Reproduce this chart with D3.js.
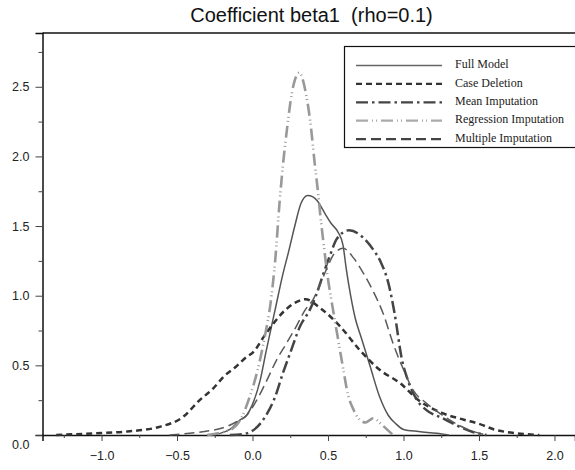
<!DOCTYPE html>
<html>
<head>
<meta charset="utf-8">
<script src="https://cdn.jsdelivr.net/npm/d3@7"></script>
<style>
  body { margin: 0; background: #fff; }
  text { font-family: "Liberation Sans", Arial, sans-serif; }
</style>
</head>
<body>
<div id="chart"></div>
<script>
// density estimates, as [beta1, density]
const fullModel = [[-0.3,0],[-0.22,0.01],[-0.15,0.04],[-0.08,0.11],[-0.04,0.14],[0.0,0.22],[0.05,0.39],[0.09,0.6],[0.15,0.9],[0.2,1.15],[0.24,1.32],[0.28,1.5],[0.32,1.66],[0.365,1.72],[0.4,1.71],[0.43,1.68],[0.48,1.59],[0.52,1.52],[0.57,1.45],[0.6,1.36],[0.62,1.2],[0.65,1.0],[0.68,0.84],[0.72,0.7],[0.78,0.49],[0.84,0.28],[0.9,0.14],[0.95,0.08],[1.0,0.04],[1.1,0.025],[1.22,0.012],[1.3,0]];
const caseDeletion = [[-1.3,0],[-1.05,0.012],[-0.83,0.025],[-0.61,0.06],[-0.46,0.13],[-0.35,0.25],[-0.26,0.335],[-0.19,0.42],[-0.11,0.49],[-0.04,0.56],[0.0,0.59],[0.09,0.73],[0.22,0.9],[0.3,0.96],[0.35,0.975],[0.45,0.91],[0.58,0.78],[0.71,0.61],[0.84,0.47],[0.98,0.37],[1.1,0.25],[1.25,0.16],[1.4,0.11],[1.5,0.08],[1.6,0.04],[1.75,0.012],[1.9,0]];
const meanImputation = [[-0.15,0],[-0.06,0.007],[0.05,0.08],[0.1,0.16],[0.15,0.275],[0.2,0.44],[0.25,0.59],[0.315,0.78],[0.38,0.9],[0.42,1.0],[0.47,1.16],[0.51,1.28],[0.56,1.41],[0.64,1.47],[0.73,1.42],[0.8,1.33],[0.85,1.24],[0.9,1.09],[0.94,0.88],[0.99,0.54],[1.03,0.39],[1.09,0.25],[1.15,0.18],[1.26,0.12],[1.35,0.07],[1.45,0.025],[1.55,0]];
const regressionImputation = [[-0.3,0],[-0.2,0.02],[-0.127,0.05],[-0.07,0.13],[-0.02,0.27],[0.03,0.45],[0.08,0.7],[0.12,0.95],[0.15,1.25],[0.18,1.68],[0.2,1.92],[0.23,2.21],[0.26,2.45],[0.31,2.6],[0.354,2.45],[0.387,2.21],[0.41,1.97],[0.43,1.78],[0.447,1.6],[0.47,1.38],[0.5,1.12],[0.53,0.92],[0.56,0.73],[0.6,0.48],[0.63,0.3],[0.67,0.18],[0.71,0.11],[0.75,0.09],[0.8,0.12],[0.86,0.07],[0.93,0]];
const multipleImputation = [[-0.55,0],[-0.33,0.024],[-0.2,0.05],[-0.105,0.095],[-0.04,0.14],[0.028,0.25],[0.094,0.39],[0.16,0.54],[0.226,0.66],[0.29,0.78],[0.35,0.9],[0.4,0.97],[0.44,1.06],[0.49,1.19],[0.54,1.3],[0.6,1.34],[0.67,1.27],[0.73,1.17],[0.8,1.03],[0.866,0.87],[0.93,0.66],[1.0,0.47],[1.065,0.32],[1.15,0.23],[1.24,0.156],[1.35,0.08],[1.45,0.03],[1.55,0]];

const seriesNames = ["Full Model", "Case Deletion", "Mean Imputation", "Regression Imputation", "Multiple Imputation"];
const xTicks = [-1.0, -0.5, 0.0, 0.5, 1.0, 1.5, 2.0];
const xMinor = [-1.25, -0.75, -0.25, 0.25, 0.75, 1.25, 1.75];
const yTicks = [0.0, 0.5, 1.0, 1.5, 2.0, 2.5];
const yMinor = [0.25, 0.75, 1.25, 1.75, 2.25, 2.75];

const width = 575, height = 470;
const plotLeft = 42.5, plotTop = 33, plotBottom = 435;

const svg = d3.select("#chart").append("svg")
    .attr("width", width)
    .attr("height", height);

const x = d3.scaleLinear().domain([-1.391, 2.136]).range([plotLeft, width]);
const y = d3.scaleLinear().domain([0, 2.886]).range([plotBottom, plotTop]);

// line looks for each series (plot / legend)
const styles = [
  {color: "#555", w: 1.5, dash: null, lw: 1.3, lcolor: "#666"},
  {color: "#333", w: 2.5, dash: "6,4", lw: 2.3, lcolor: "#333"},
  {color: "#444", w: 2.5, dash: "12,4,2.5,4", lw: 2.3, lcolor: "#444"},
  {color: "#999", w: 2.6, dash: "12,4,1,3,1,4", lw: 2.3, lcolor: "#aaa"},
  {color: "#5a5a5a", w: 1.5, dash: "10,5", lw: 2.2, lcolor: "#444"}
];
const allSeries = [fullModel, caseDeletion, meanImputation, regressionImputation, multipleImputation];

// title
svg.append("text")
    .attr("x", 311.5)
    .attr("y", 17)
    .attr("text-anchor", "middle")
    .attr("dominant-baseline", "middle")
    .style("font-size", "20px")
    .style("white-space", "pre")
    .attr("fill", "#111")
    .text("Coefficient beta1  (rho=0.1)");

// top frame line
svg.append("line")
    .attr("x1", plotLeft).attr("x2", width)
    .attr("y1", plotTop).attr("y2", plotTop)
    .attr("stroke", "#111").attr("stroke-width", 1.5);

// x axis
const xAxis = svg.append("g")
    .attr("transform", `translate(0, ${plotBottom})`)
    .call(d3.axisBottom(x).tickValues(xTicks).tickSize(6).tickPadding(10).tickFormat(d3.format(".1f")));
svg.append("g")
    .attr("transform", `translate(0, ${plotBottom})`)
    .call(d3.axisBottom(x).tickValues(xMinor).tickSize(3).tickFormat(""))
    .select(".domain").remove();

// y axis
const yAxis = svg.append("g")
    .attr("transform", `translate(${plotLeft}, 0)`)
    .call(d3.axisLeft(y).tickValues(yTicks).tickSize(7).tickPadding(6).tickFormat(d3.format(".1f")));
svg.append("g")
    .attr("transform", `translate(${plotLeft}, 0)`)
    .call(d3.axisLeft(y).tickValues(yMinor).tickSize(4).tickFormat(""))
    .select(".domain").remove();

svg.selectAll(".domain").attr("stroke", "#111").attr("stroke-width", 1.5);
svg.selectAll(".tick line").attr("stroke", "#444");
svg.selectAll(".tick text").style("font-size", "12.5px").attr("fill", "#222");
// the 0.0 label sits a bit lower than its tick
yAxis.selectAll(".tick text").filter(d => d === 0).attr("y", 9);

// curves
const line = d3.line()
    .x(d => x(d[0]))
    .y(d => y(d[1]))
    .curve(d3.curveMonotoneX);

svg.append("g")
  .selectAll("path")
  .data(allSeries)
  .join("path")
    .attr("d", line)
    .attr("fill", "none")
    .attr("stroke", (d, i) => styles[i].color)
    .attr("stroke-width", (d, i) => styles[i].w)
    .attr("stroke-dasharray", (d, i) => styles[i].dash);

// legend
const legend = svg.append("g");
legend.append("rect")
    .attr("x", 344.5).attr("y", 46.5)
    .attr("width", 260).attr("height", 101)
    .attr("fill", "#fff")
    .attr("stroke", "#111").attr("stroke-width", 1.2);

const rows = legend.selectAll("g.row")
  .data(seriesNames)
  .join("g")
    .attr("class", "row")
    .attr("transform", (d, i) => `translate(0, ${65.5 + i * 18.4})`);

rows.append("line")
    .attr("x1", 356).attr("x2", 442)
    .attr("stroke", (d, i) => styles[i].lcolor)
    .attr("stroke-width", (d, i) => styles[i].lw)
    .attr("stroke-dasharray", (d, i) => styles[i].dash);

rows.append("text")
    .attr("x", 455)
    .attr("dominant-baseline", "middle")
    .style("font-family", "'Liberation Serif', 'Times New Roman', serif")
    .style("font-size", "12px")
    .attr("fill", "#222")
    .text(d => d);
</script>
</body>
</html>
